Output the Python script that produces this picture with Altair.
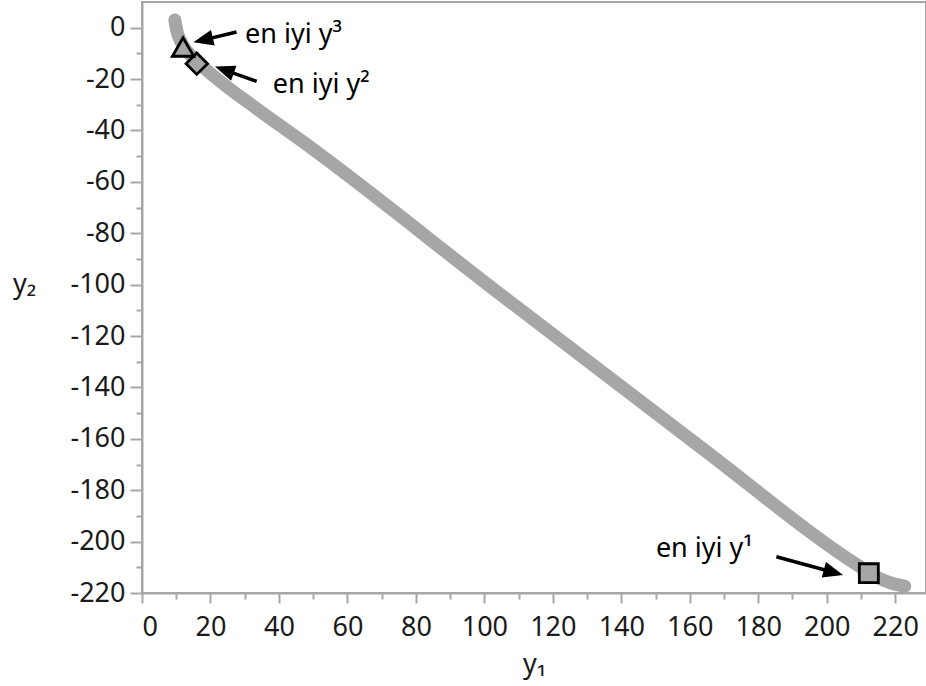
import math
import altair as alt
import pandas as pd

# ---- data ----
curve_y1 = [9.6, 10.1, 11.6, 15.0, 18.9, 23.7, 33.5, 48.1, 104.5, 162.9, 209.6, 214.5, 218.5, 222.8]
curve_y2 = [3.0, -0.8, -6.0, -11.8, -16.5, -21.8, -31.5, -45.5, -103.6, -163.0, -209.7, -213.8, -216.0, -217.3]

marker_name = ["en iyi y¹", "en iyi y²", "en iyi y³"]
marker_y1 = [212.3, 16.0, 12.0]
marker_y2 = [-212.3, -14.0, -7.5]
marker_shape = ["square", "diamond", "triangle-up"]
marker_size = [360, 460, 460]

label_text = ["en iyi y¹", "en iyi y²", "en iyi y³"]
label_y1 = [150.1, 38.2, 30.1]
label_y2 = [-206.0, -25.3, -5.8]

arrow_tail_y1 = [185.3, 33.5, 27.6]
arrow_tail_y2 = [-205.9, -20.9, -1.7]
arrow_tip_y1 = [204.8, 21.3, 15.0]
arrow_tip_y2 = [-213.0, -15.1, -5.7]

x_major = list(range(0, 221, 20))
x_minor = list(range(10, 221, 20))
y_major = list(range(0, -221, -20))
y_minor = list(range(-10, -221, -20))

# ---- layout ----
XMIN, XMAX = 0, 229
YMIN, YMAX = -220, 10
W, H = 784, 591
sx = W / (XMAX - XMIN)
sy = H / (YMAX - YMIN)

FONT = "Noto Sans"
GRAY = "#a6a6a6"

xs = alt.Scale(domain=[XMIN, XMAX], nice=False, zero=False)
ys = alt.Scale(domain=[YMIN, YMAX], nice=False, zero=False)

# arrows: compute head angle and shaft end from the data
HEAD_LEN = 20
heads = []
shafts = []
for tx, ty, hx, hy in zip(arrow_tail_y1, arrow_tail_y2, arrow_tip_y1, arrow_tip_y2):
    dxp = (hx - tx) * sx
    dyp = -(hy - ty) * sy
    L = math.hypot(dxp, dyp)
    ux, uy = dxp / L, dyp / L
    ang = math.degrees(math.atan2(ux, -uy)) % 360
    heads.append({"x": hx, "y": hy, "angle": ang})
    ex = hx - ux * (HEAD_LEN - 5) / sx
    ey = hy + uy * (HEAD_LEN - 5) / sy
    shafts.append({"x": tx, "y": ty, "x2": ex, "y2": ey})

curve_df = pd.DataFrame({"y1": curve_y1, "y2": curve_y2})
marker_df = pd.DataFrame({"name": marker_name, "y1": marker_y1, "y2": marker_y2,
                          "shape": marker_shape, "size": marker_size})
label_df = pd.DataFrame({"text": label_text, "y1": label_y1, "y2": label_y2})
head_df = pd.DataFrame(heads)
shaft_df = pd.DataFrame(shafts)

x_axis_major = alt.Axis(values=x_major, title="y₁", orient="bottom", grid=False,
                        labelExpr="toString(datum.value)",
                        tickSize=10, tickWidth=2, tickColor=GRAY,
                        domainColor=GRAY, domainWidth=2,
                        labelFont=FONT, labelFontSize=27, labelColor="#1a1a1a",
                        labelPadding=11,
                        titleFont=FONT, titleFontSize=27, titleFontWeight="normal",
                        titleColor="#1a1a1a", titleBaseline="alphabetic", titleY=79)
y_axis_major = alt.Axis(values=y_major, title="y₂", orient="left", grid=False,
                        labelExpr="toString(datum.value)",
                        tickSize=12, tickWidth=2, tickColor=GRAY,
                        domainColor=GRAY, domainWidth=2,
                        labelFont=FONT, labelFontSize=27, labelColor="#1a1a1a",
                        labelPadding=5,
                        titleFont=FONT, titleFontSize=27, titleFontWeight="normal",
                        titleColor="#1a1a1a", titleAngle=0, titleAlign="center",
                        titleBaseline="alphabetic", titleX=-118, titleY=290)
x_axis_minor = alt.Axis(values=x_minor, title=None, orient="bottom", grid=False,
                        labels=False, domain=False, tickSize=6, tickWidth=2, tickColor=GRAY)
y_axis_minor = alt.Axis(values=y_minor, title=None, orient="left", grid=False,
                        labels=False, domain=False, tickSize=6, tickWidth=2, tickColor=GRAY)

curve = alt.Chart(curve_df).mark_line(
    color=GRAY, strokeWidth=13, strokeCap="round", strokeJoin="round", interpolate="monotone"
).encode(
    x=alt.X("y1:Q", scale=xs, axis=x_axis_major),
    y=alt.Y("y2:Q", scale=ys, axis=y_axis_major),
    order=alt.Order("y1:Q"),
)

markers = alt.Chart(marker_df).mark_point(
    filled=True, fill=GRAY, stroke="black", strokeWidth=2.8, opacity=1
).encode(
    x=alt.X("y1:Q", scale=xs, axis=x_axis_minor),
    y=alt.Y("y2:Q", scale=ys, axis=y_axis_minor),
    shape=alt.Shape("shape:N", scale=None, legend=None),
    size=alt.Size("size:Q", scale=None, legend=None),
)

shaft = alt.Chart(shaft_df).mark_rule(color="black", strokeWidth=3.5).encode(
    x=alt.X("x:Q", scale=xs, axis=None),
    y=alt.Y("y:Q", scale=ys, axis=None),
    x2="x2:Q",
    y2="y2:Q",
)

head = alt.Chart(head_df).mark_point(
    shape="M0,0 L0.8,2 L-0.8,2 Z", filled=True, color="black", size=400, opacity=1
).encode(
    x=alt.X("x:Q", scale=xs, axis=None),
    y=alt.Y("y:Q", scale=ys, axis=None),
    angle=alt.Angle("angle:Q", scale=None),
)

labels = alt.Chart(label_df).mark_text(
    align="left", baseline="alphabetic", font=FONT, fontSize=27, color="black"
).encode(
    x=alt.X("y1:Q", scale=xs, axis=None),
    y=alt.Y("y2:Q", scale=ys, axis=None),
    text="text:N",
)

chart = alt.layer(curve, markers, shaft, head, labels).resolve_axis(
    x="independent", y="independent"
).properties(
    width=W, height=H,
    autosize=alt.AutoSizeParams(type="none"),
    padding={"left": 142, "top": 2, "right": 0, "bottom": 93},
    background="white",
).configure_view(stroke=GRAY, strokeWidth=2)

chart.save("out.html", embed_options={"renderer": "svg", "actions": False})
